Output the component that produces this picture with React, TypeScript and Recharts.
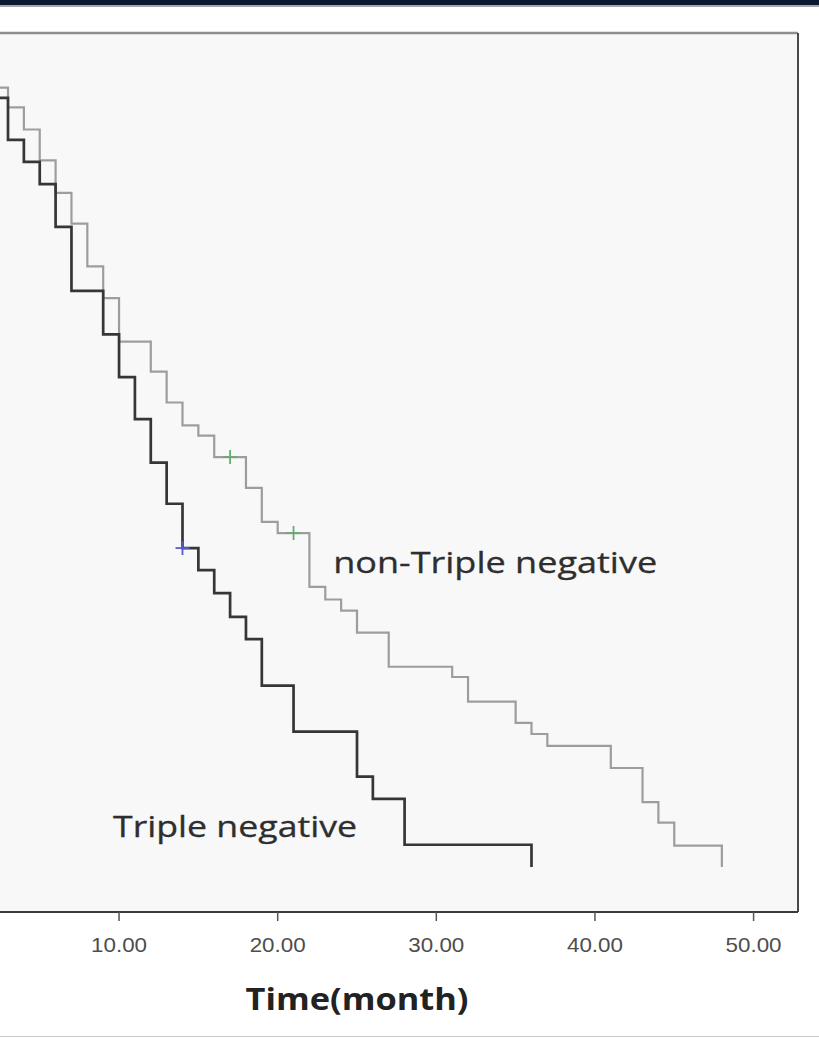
import { CartesianGrid, ComposedChart, Line, ReferenceDot, ReferenceLine, Scatter, XAxis, YAxis } from 'recharts';

// Kaplan–Meier curves (time in months, cumulative survival)
const TN_TIMES = [0, 2, 3, 4, 5, 6, 7, 9, 10, 11, 12, 13, 14, 15, 16, 17, 18, 19, 21, 25, 26, 28, 36];
const TN_SURV = [1, 0.972, 0.919, 0.891, 0.863, 0.809, 0.728, 0.673, 0.619, 0.566, 0.511, 0.459, 0.403, 0.375, 0.346, 0.316, 0.288, 0.229, 0.171, 0.114, 0.086, 0.028, 0];

const NTN_TIMES = [0, 2, 3, 4, 5, 6, 7, 8, 9, 10, 12, 13, 14, 15, 16, 18, 19, 20, 22, 23, 24, 25, 27, 31, 32, 35, 36, 37, 41, 43, 44, 45, 48];
const NTN_SURV = [1, 0.985, 0.96, 0.932, 0.893, 0.852, 0.813, 0.759, 0.719, 0.664, 0.626, 0.587, 0.558, 0.545, 0.518, 0.479, 0.436, 0.422, 0.354, 0.338, 0.324, 0.296, 0.253, 0.24, 0.209, 0.182, 0.168, 0.153, 0.125, 0.082, 0.056, 0.027, 0];

// censored observations
const TN_CENSOR_TIMES = [14];
const TN_CENSOR_SURV = [0.403];
const NTN_CENSOR_TIMES = [17, 21];
const NTN_CENSOR_SURV = [0.518, 0.422];

const X_TICKS = [10, 20, 30, 40, 50];
const X_DOMAIN: [number, number] = [-2.8, 52.8];
const Y_DOMAIN: [number, number] = [-0.057, 1.054];

const AXIS_TITLE = 'Time(month)';
const TN_LABEL = 'Triple negative';
const NTN_LABEL = 'non-Triple negative';

const tnData = TN_TIMES.map((t, i) => ({ t, s: TN_SURV[i] }));
const ntnData = NTN_TIMES.map((t, i) => ({ t, s: NTN_SURV[i] }));
const tnCensor = TN_CENSOR_TIMES.map((t, i) => ({ t, s: TN_CENSOR_SURV[i] }));
const ntnCensor = NTN_CENSOR_TIMES.map((t, i) => ({ t, s: NTN_CENSOR_SURV[i] }));

const SANS = "'Liberation Sans', Arial, sans-serif";
const LABEL_FONT = "'Open Sans', 'Noto Sans', sans-serif";

function TimeTick({ x, y, payload }: any) {
  return (
    <text
      x={x}
      y={y}
      dy={31}
      textAnchor="middle"
      fontFamily={SANS}
      fontSize={21}
      fill="#4d4d4d"
      textLength={56}
      lengthAdjust="spacingAndGlyphs"
    >
      {Number(payload.value).toFixed(2)}
    </text>
  );
}

function censorMark(color: string) {
  return (props: any) => {
    const { cx, cy } = props;
    return (
      <g stroke={color} strokeWidth={1.8}>
        <line x1={cx - 7} y1={cy} x2={cx + 7} y2={cy} />
        <line x1={cx} y1={cy - 7} x2={cx} y2={cy + 7} />
      </g>
    );
  };
}

function groupLabel(text: string, width: number) {
  return (props: any) => {
    const vb = props.viewBox;
    return (
      <text
        x={vb.x}
        y={vb.y}
        fontFamily={LABEL_FONT}
        fontSize={29}
        fill="#2e2e2e"
        stroke="#2e2e2e"
        strokeWidth={0.3}
        textLength={width}
        lengthAdjust="spacingAndGlyphs"
      >
        {text}
      </text>
    );
  };
}

export default function App() {
  return (
    <div style={{ position: 'absolute', left: 0, top: 0, width: 819, height: 1039, overflow: 'hidden', background: '#fff' }}>
      <div style={{ position: 'absolute', left: 0, top: 0, width: 819, height: 5, background: '#0b1631' }} />
      <div style={{ position: 'absolute', left: 0, top: 5, width: 819, height: 2, background: '#a3a7ad' }} />
      <div style={{ position: 'absolute', left: 0, top: 1036, width: 819, height: 1, background: '#c9c9c9' }} />

      <div style={{ position: 'absolute', left: -84, top: 0 }}>
        <ComposedChart width={903} height={1039} margin={{ top: 33, right: 21, bottom: 37, left: 0 }}>
          <CartesianGrid horizontal={false} vertical={false} fill="#f8f8f8" />

          <XAxis
            dataKey="t"
            type="number"
            domain={X_DOMAIN}
            ticks={X_TICKS}
            allowDataOverflow
            height={90}
            tickSize={9}
            tickMargin={0}
            axisLine={{ stroke: '#3a3a3a', strokeWidth: 2 }}
            tickLine={{ stroke: '#555', strokeWidth: 1.5 }}
            tick={<TimeTick />}
            label={{
              content: (props: any) => {
                const vb = props.viewBox;
                return (
                  <text
                    x={vb.x + vb.width / 2}
                    y={vb.y + 98}
                    textAnchor="middle"
                    fontFamily={LABEL_FONT}
                    fontWeight={700}
                    fontSize={31}
                    fill="#222"
                    textLength={223}
                    lengthAdjust="spacingAndGlyphs"
                  >
                    {AXIS_TITLE}
                  </text>
                );
              },
            }}
          />
          <YAxis type="number" domain={Y_DOMAIN} allowDataOverflow hide width={0} />

          {/* plot frame: top and right edges */}
          <ReferenceLine y={Y_DOMAIN[1]} stroke="#8e8e8e" strokeWidth={2.5} ifOverflow="visible" />
          <ReferenceLine x={X_DOMAIN[1]} stroke="#4a4a4a" strokeWidth={2} ifOverflow="visible" />

          <Line
            data={ntnData}
            dataKey="s"
            type="stepAfter"
            stroke="#9d9d9d"
            strokeWidth={2.2}
            dot={false}
            activeDot={false}
            isAnimationActive={false}
          />
          <Line
            data={tnData}
            dataKey="s"
            type="stepAfter"
            stroke="#363636"
            strokeWidth={2.7}
            dot={false}
            activeDot={false}
            isAnimationActive={false}
          />
          <Scatter data={ntnCensor} dataKey="s" shape={censorMark('#6aaa74')} isAnimationActive={false} />
          <Scatter data={tnCensor} dataKey="s" shape={censorMark('#5a5cc4')} isAnimationActive={false} />

          <ReferenceDot x={23.5} y={0.372} r={0} ifOverflow="visible" label={{ content: groupLabel(NTN_LABEL, 324) }} />
          <ReferenceDot x={9.62} y={0.038} r={0} ifOverflow="visible" label={{ content: groupLabel(TN_LABEL, 244) }} />
        </ComposedChart>
      </div>
    </div>
  );
}
